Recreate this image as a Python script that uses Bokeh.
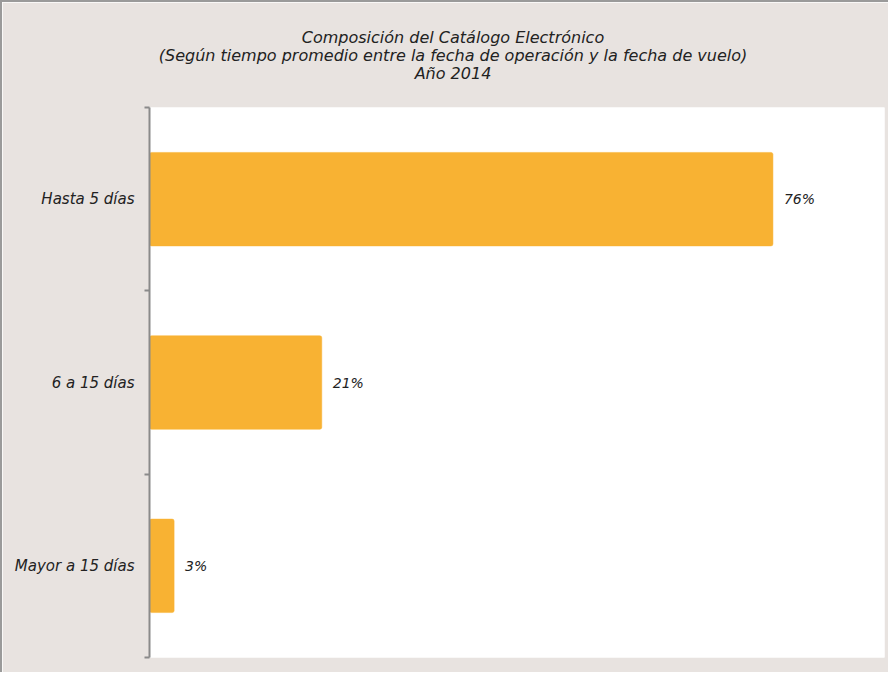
from bokeh.plotting import figure
from bokeh.models import ColumnDataSource, Title, FixedTicker
from bokeh.core.properties import value
from bokeh.embed import file_html
from bokeh.resources import INLINE

categories = ["Mayor a 15 días", "6 a 15 días", "Hasta 5 días"]
shares = [0.03, 0.21, 0.76]
share_labels = ["3%", "21%", "76%"]
title_lines = [
    "Composición del Catálogo Electrónico",
    "(Según tiempo promedio entre la fecha de operación y la fecha de vuelo)",
    "Año 2014",
]

FONT = "DejaVu Sans"
BG = "#e8e3e0"
BAR = "#f8b233"

ypos = [i + 0.5 for i in range(len(categories))]
src = ColumnDataSource(dict(y=ypos, x=shares, lab=share_labels, cat=categories))

p = figure(width=888, height=672, output_backend="svg", toolbar_location=None,
           x_range=(0, 0.896), y_range=(0, len(categories)),
           min_border_left=147, min_border_right=6, min_border_bottom=17, min_border_top=96)
p.title = None
p.background_fill_color = "white"
p.border_fill_color = BG
p.outline_line_color = None
p.styles = {"border-top": "2px solid #9a9a9a", "border-left": "2px solid #9a9a9a", "box-sizing": "border-box"}

p.hbar(y="y", right="x", left=0, height=0.51, source=src, fill_color=BAR,
       line_color=BAR, line_width=0.5, border_radius=2)
p.text(x="x", y="y", text="lab", source=src, x_offset=11, text_baseline="middle",
       text_align="left", text_font=value(FONT), text_font_style="italic",
       text_font_size="14px", text_color="#222222")

p.xaxis.visible = False
p.xgrid.visible = False
p.ygrid.visible = False

ax = p.yaxis[0]
ax.ticker = FixedTicker(ticks=ypos, minor_ticks=list(range(len(categories) + 1)))
ax.major_label_overrides = {y: c for y, c in zip(ypos, categories)}
ax.major_tick_out = 0
ax.major_tick_in = 0
ax.minor_tick_out = 5
ax.minor_tick_in = 0
ax.minor_tick_line_color = "#8a8a8a"
ax.minor_tick_line_width = 2
ax.axis_line_color = "#8a8a8a"
ax.axis_line_width = 2
ax.major_label_standoff = 10
ax.major_label_text_font = FONT
ax.major_label_text_font_style = "italic"
ax.major_label_text_font_size = "15px"
ax.major_label_text_color = "#222222"

p.add_layout(Title(text="\n".join(title_lines), align="center", text_align="center",
                   text_font=FONT, text_font_style="italic", text_font_size="16px",
                   text_color="#222222", text_line_height=0.95, standoff=48,
                   padding=dict(left=0, right=128, top=0, bottom=0)), "above")

open("out.html", "w").write(file_html(p, INLINE))
